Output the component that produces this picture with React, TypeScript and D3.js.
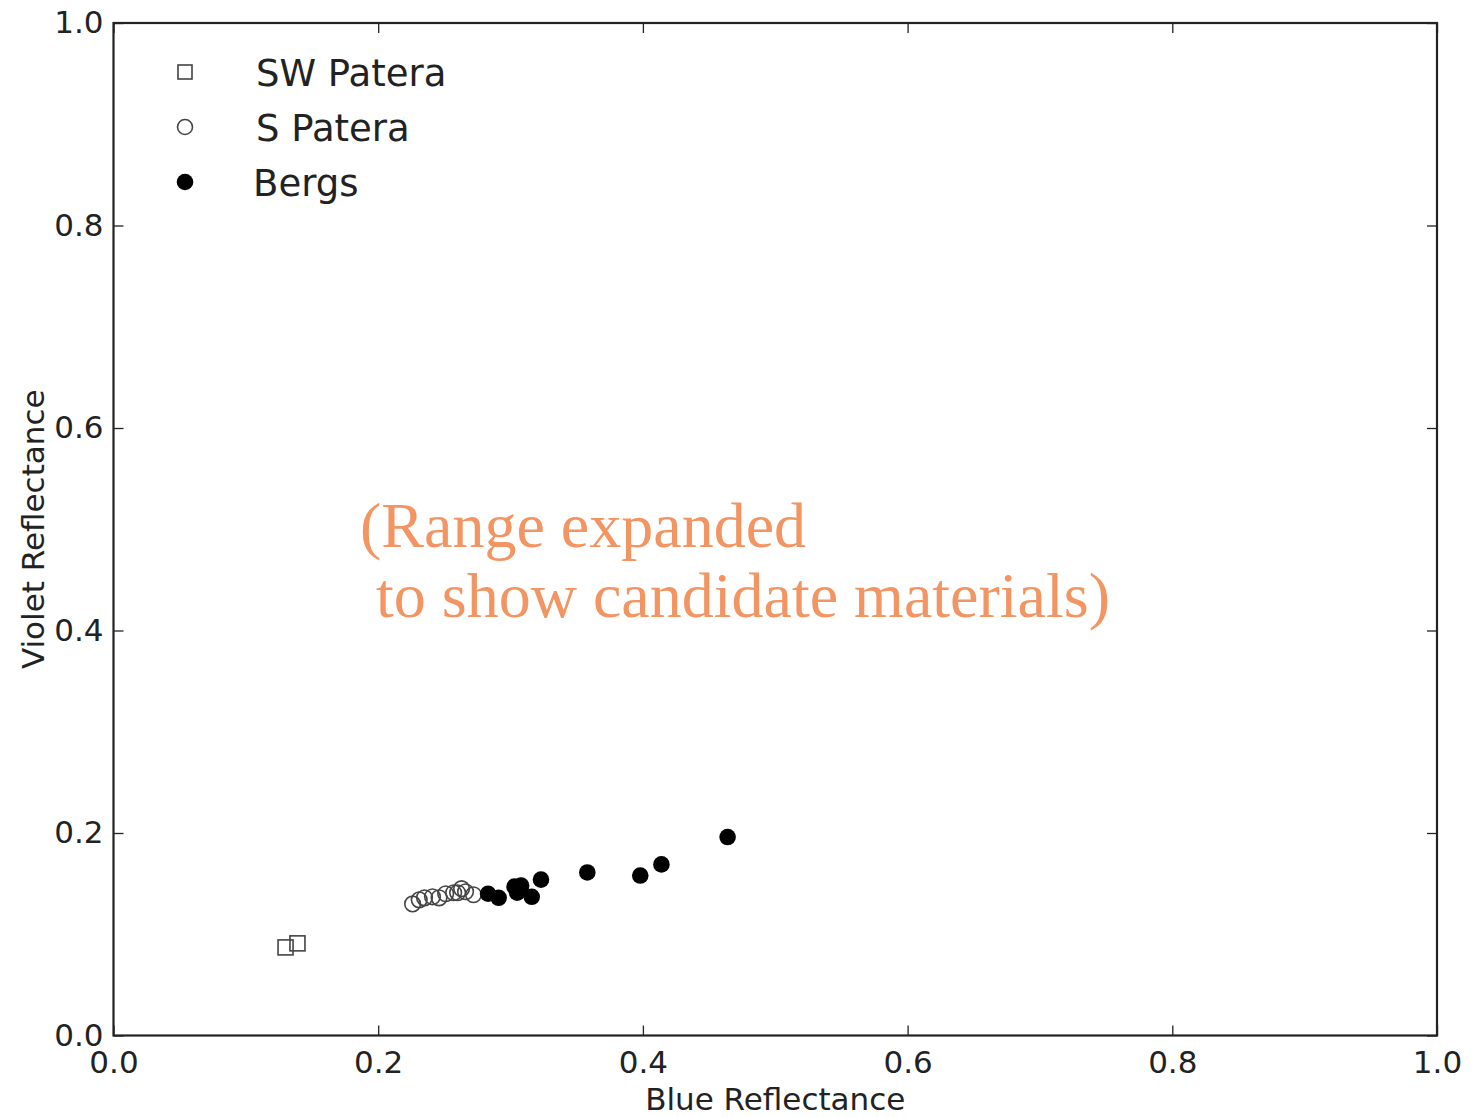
import React, { useRef, useEffect } from 'react';
import * as d3 from 'd3';

// values
const swPateraBlue = [0.130, 0.139];
const swPateraViolet = [0.087, 0.091];

const sPateraBlue = [0.226, 0.231, 0.235, 0.241, 0.246, 0.251, 0.257, 0.260, 0.263, 0.266, 0.272];
const sPateraViolet = [0.130, 0.134, 0.136, 0.137, 0.136, 0.140, 0.141, 0.141, 0.145, 0.142, 0.139];

const bergsBlue = [0.283, 0.291, 0.303, 0.308, 0.305, 0.316, 0.323, 0.358, 0.398, 0.414, 0.464];
const bergsViolet = [0.140, 0.136, 0.147, 0.148, 0.141, 0.137, 0.154, 0.161, 0.158, 0.169, 0.196];

const ticks = [0.0, 0.2, 0.4, 0.6, 0.8, 1.0];
const legendLabels = ['SW Patera', 'S Patera', 'Bergs'];
const noteLines = ['(Range expanded', '\u00a0to show candidate materials)'];

const App = () => {
    const svgRef = useRef<SVGSVGElement>(null);

    useEffect(() => {
        if (!svgRef.current) return;
        document.body.style.margin = '0';

        const W = 1479;
        const H = 1117;
        const margin = { top: 23, right: 42, bottom: 81.5, left: 113.5 };
        const width = W - margin.left - margin.right;
        const height = H - margin.top - margin.bottom;
        const axisFont = "'DejaVu Sans', sans-serif";
        const ink = '#222';

        d3.select(svgRef.current).selectAll('*').remove();

        const root = d3.select(svgRef.current)
            .attr('width', W)
            .attr('height', H)
            .style('display', 'block')
            .style('background', '#fff');

        const svg = root.append('g')
            .attr('transform', `translate(${margin.left},${margin.top})`);

        const x = d3.scaleLinear().domain([0, 1]).range([0, width]);
        const y = d3.scaleLinear().domain([0, 1]).range([height, 0]);

        // inward ticks on all four sides
        const tickLen = 10;
        const styleAxis = (g: any) => {
            g.select('.domain').remove();
            g.selectAll('line').attr('stroke', ink).attr('stroke-width', 1.3);
        };

        svg.append('g')
            .attr('transform', `translate(0,${height})`)
            .call(d3.axisBottom(x).tickValues(ticks).tickSize(-tickLen).tickPadding(8).tickFormat(d3.format('.1f')))
            .call(styleAxis)
            .selectAll('text')
            .attr('fill', ink)
            .style('font-family', axisFont)
            .style('font-size', '31px')
            .attr('dy', '0.95em');

        svg.append('g')
            .call(d3.axisTop(x).tickValues(ticks).tickSize(-tickLen).tickFormat(() => ''))
            .call(styleAxis);

        svg.append('g')
            .call(d3.axisLeft(y).tickValues(ticks).tickSize(-tickLen).tickPadding(10).tickFormat(d3.format('.1f')))
            .call(styleAxis)
            .selectAll('text')
            .attr('fill', ink)
            .style('font-family', axisFont)
            .style('font-size', '31px');

        svg.append('g')
            .attr('transform', `translate(${width},0)`)
            .call(d3.axisRight(y).tickValues(ticks).tickSize(-tickLen).tickFormat(() => ''))
            .call(styleAxis);

        svg.append('rect')
            .attr('x', 0)
            .attr('y', 0)
            .attr('width', width)
            .attr('height', height)
            .attr('fill', 'none')
            .attr('stroke', ink)
            .attr('stroke-width', 2.2);

        // axis labels
        svg.append('text')
            .attr('x', width / 2)
            .attr('y', height + 74)
            .attr('text-anchor', 'middle')
            .attr('fill', ink)
            .style('font-family', axisFont)
            .style('font-size', '31px')
            .text('Blue Reflectance');

        svg.append('text')
            .attr('transform', `translate(${44 - margin.left},${height / 2}) rotate(-90)`)
            .attr('text-anchor', 'middle')
            .attr('fill', ink)
            .style('font-family', axisFont)
            .style('font-size', '31px')
            .text('Violet Reflectance');

        // data
        const markerStroke = '#444';
        const sw = swPateraBlue.map((b, i) => ({ b, v: swPateraViolet[i] }));
        const sp = sPateraBlue.map((b, i) => ({ b, v: sPateraViolet[i] }));
        const bg = bergsBlue.map((b, i) => ({ b, v: bergsViolet[i] }));

        svg.selectAll('.sw')
            .data(sw)
            .enter().append('rect')
            .attr('class', 'sw')
            .attr('x', d => x(d.b) - 7.5)
            .attr('y', d => y(d.v) - 7.5)
            .attr('width', 15)
            .attr('height', 15)
            .attr('fill', 'none')
            .attr('stroke', markerStroke)
            .attr('stroke-width', 1.6);

        svg.selectAll('.sp')
            .data(sp)
            .enter().append('circle')
            .attr('class', 'sp')
            .attr('cx', d => x(d.b))
            .attr('cy', d => y(d.v))
            .attr('r', 7.8)
            .attr('fill', 'none')
            .attr('stroke', markerStroke)
            .attr('stroke-width', 1.6);

        svg.selectAll('.bg')
            .data(bg)
            .enter().append('circle')
            .attr('class', 'bg')
            .attr('cx', d => x(d.b))
            .attr('cy', d => y(d.v))
            .attr('r', 8.3)
            .attr('fill', '#000');

        // legend
        const legend = root.append('g');
        const legendRows = [72, 127, 182];
        legendLabels.forEach((label, i) => {
            const cy = legendRows[i];
            if (i === 0) {
                legend.append('rect')
                    .attr('x', 185 - 7).attr('y', cy - 7)
                    .attr('width', 14).attr('height', 14)
                    .attr('fill', 'none').attr('stroke', markerStroke).attr('stroke-width', 1.6);
            } else if (i === 1) {
                legend.append('circle')
                    .attr('cx', 185).attr('cy', cy).attr('r', 7.5)
                    .attr('fill', 'none').attr('stroke', markerStroke).attr('stroke-width', 1.6);
            } else {
                legend.append('circle')
                    .attr('cx', 185).attr('cy', cy).attr('r', 8.3)
                    .attr('fill', '#000');
            }
            legend.append('text')
                .attr('x', i === 2 ? 253 : 256)
                .attr('y', cy + 14)
                .attr('fill', ink)
                .style('font-family', axisFont)
                .style('font-size', '37px')
                .text(label);
        });

        // annotation
        const note = root.append('text')
            .attr('fill', '#f39562')
            .style('font-family', "'Liberation Serif', 'Times New Roman', serif")
            .style('font-size', '64px');
        noteLines.forEach((line, i) => {
            note.append('tspan')
                .attr('x', 360)
                .attr('y', 547 + i * 70)
                .text(line);
        });
    }, []);

    return (
        <div>
            <svg ref={svgRef}></svg>
        </div>
    );
};

export default App;
